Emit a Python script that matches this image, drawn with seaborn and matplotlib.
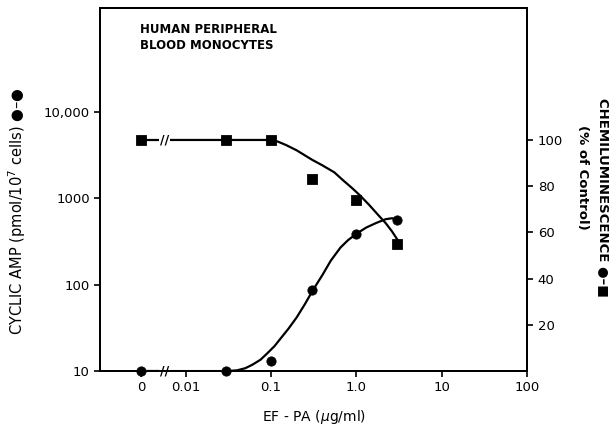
import matplotlib
matplotlib.use('Agg')
import matplotlib.pyplot as plt
import seaborn as sns
import pandas as pd

# measured points (x = EF-PA ug/ml, "0" dose drawn at 0.003 left of the axis break)
camp_x = [0.003, 0.03, 0.1, 0.3, 1.0, 3.0]
camp_y = [10, 10, 13, 88, 390, 560]
chem_x = [0.003, 0.03, 0.1, 0.3, 1.0, 3.0]
chem_y = [100, 100, 100, 83, 74, 55]

# hand-drawn fitted curves
camp_curve_x = [0.0062, 0.01, 0.02, 0.03, 0.04, 0.05, 0.06, 0.075, 0.09, 0.11, 0.13, 0.16, 0.2,
                0.25, 0.31, 0.4, 0.5, 0.65, 0.8, 1.0, 1.3, 1.7, 2.2, 2.6, 3.0]
camp_curve_y = [10, 10, 10, 10, 10.2, 10.8, 11.8, 13.5, 16, 19.5, 24, 31, 42,
                60, 87, 130, 190, 270, 330, 390, 460, 520, 575, 590, 570]
chem_curve_x = [0.0062, 0.03, 0.1, 0.12, 0.15, 0.2, 0.3, 0.4, 0.55, 0.7, 0.9, 1.1, 1.4, 1.8,
                2.2, 2.6, 3.0]
chem_curve_y = [100, 100, 100, 99.3, 97.8, 95.5, 91.5, 89, 86, 82.5, 79, 76, 72, 67.5,
                64, 60.5, 57]

xticks = [0.003, 0.01, 0.1, 1, 10, 100]
xtick_labels = ['0', '0.01', '0.1', '1.0', '10', '100']
yticks_left = [10, 100, 1000, 10000]
ytick_left_labels = ['10', '100', '1000', '10,000']
yticks_right = [20, 40, 60, 80, 100]

sns.set_style("ticks")
plt.rcParams['font.family'] = ['DejaVu Sans']
plt.rcParams['font.size'] = 9.5
plt.rcParams['text.color'] = 'black'
plt.rcParams['axes.labelcolor'] = 'black'
plt.rcParams['xtick.color'] = 'black'
plt.rcParams['ytick.color'] = 'black'
plt.rcParams['axes.edgecolor'] = 'black'

fig = plt.figure(figsize=(6.11, 4.33), dpi=100)
ax = fig.add_axes([0.164, 0.143, 0.699, 0.838])
ax2 = ax.twinx()

# left axis: cyclic AMP
seg = pd.DataFrame({'x': camp_x[:1] + [0.0052], 'y': camp_y[:1] + [10]})
sns.lineplot(data=seg, x='x', y='y', ax=ax, color='black', lw=1.6, sort=False, estimator=None)
sns.lineplot(x=camp_curve_x, y=camp_curve_y, ax=ax, color='black', lw=1.6, sort=False, estimator=None)
sns.scatterplot(x=camp_x, y=camp_y, ax=ax, color='black', marker='o', s=45, edgecolor='black', zorder=5, clip_on=False)

# right axis: chemiluminescence
seg2 = pd.DataFrame({'x': chem_x[:1] + [0.0052], 'y': chem_y[:1] + [100]})
sns.lineplot(data=seg2, x='x', y='y', ax=ax2, color='black', lw=1.6, sort=False, estimator=None)
sns.lineplot(x=chem_curve_x, y=chem_curve_y, ax=ax2, color='black', lw=1.6, sort=False, estimator=None)
sns.scatterplot(x=chem_x, y=chem_y, ax=ax2, color='black', marker='s', s=55, edgecolor='black', zorder=5)

ax.set_xscale('log')
ax.set_yscale('log')
ax.set_xlim(0.001, 100)
ax.set_ylim(10, 1.6e5)
ax2.set_ylim(0, 157)

ax.set_xticks(xticks)
ax.set_xticklabels(xtick_labels)
ax.set_yticks(yticks_left)
ax.set_yticklabels(ytick_left_labels)
ax.minorticks_off()
ax2.set_yticks(yticks_right)
ax2.set_yticklabels([str(v) for v in yticks_right])

for a in (ax, ax2):
    for s in a.spines.values():
        s.set_linewidth(1.4)
        s.set_visible(True)
        s.set_color('black')
    a.tick_params(width=1.2, length=4, colors='black')

# axis breaks
for a, yv in ((ax, 10), (ax2, 100)):
    a.text(0.0057, yv, '//', ha='center', va='center', fontsize=9, fontweight='bold',
           bbox=dict(facecolor='white', edgecolor='none', pad=0.5), zorder=6, clip_on=False)

ax.set_xlabel('EF - PA ($\\mu$g/ml)', fontsize=10, labelpad=10)
ax.set_ylabel('CYCLIC AMP (pmol/10$^7$ cells) ●–●', fontsize=10.5)
ax.yaxis.set_label_coords(-0.17, 0.44)
ax2.set_ylabel('')

ax.text(0.094, 0.96, 'HUMAN PERIPHERAL\nBLOOD MONOCYTES', transform=ax.transAxes,
        fontsize=8.5, fontweight='bold', va='top', ha='left', linespacing=1.3)
ax.text(1.178, 0.48, 'CHEMILUMINESCENCE ●–■', transform=ax.transAxes, rotation=270,
        fontsize=9.5, fontweight='bold', ha='center', va='center')
ax.text(1.129, 0.534, '(% of Control)', transform=ax.transAxes, rotation=270,
        fontsize=9.5, fontweight='bold', ha='center', va='center')

plt.savefig('out.png', dpi=100)
